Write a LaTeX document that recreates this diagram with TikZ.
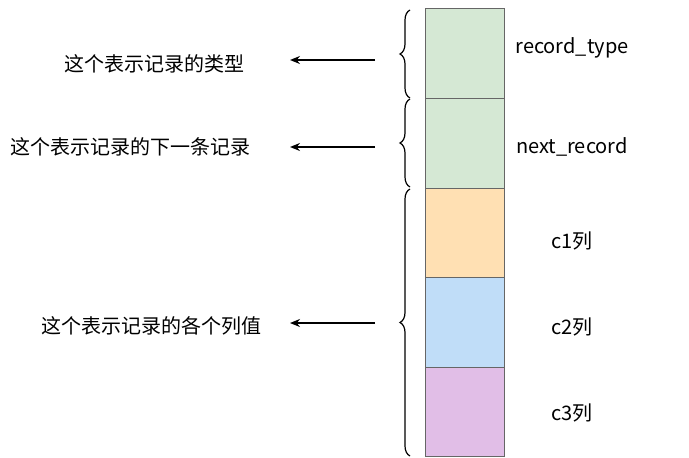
\documentclass[tikz,border=0pt]{standalone}
\usepackage{fontspec}
\setmainfont{Noto Sans CJK SC}
\usetikzlibrary{decorations.pathreplacing,arrows.meta}
\definecolor{cg}{HTML}{D5E8D4}
\definecolor{co}{HTML}{FFE0B3}
\definecolor{cb}{HTML}{C0DDF8}
\definecolor{cp}{HTML}{E1BEE7}
\begin{document}
\begin{tikzpicture}[x=1pt,y=-1pt,
  box/.style={draw=gray!80!black,line width=0.6pt},
  lab/.style={font=\fontsize{20}{24}\selectfont},
  br/.style={decorate,decoration={brace,amplitude=10pt,raise=0pt},line width=1.2pt},
  arr/.style={-{Stealth[length=10pt,width=8pt]},line width=1.5pt}]
\useasboundingbox (0,0) rectangle (689,458);
\fill[white] (0,0) rectangle (689,458);
\draw[box,fill=cg] (425,8) rectangle (504,98);
\draw[box,fill=cg] (425,98) rectangle (504,188);
\draw[box,fill=co] (425,188) rectangle (504,277);
\draw[box,fill=cb] (425,277) rectangle (504,367);
\draw[box,fill=cp] (425,367) rectangle (504,456);
\node[lab] (l1) at (572,48) {record\_type};
\node[lab] (l2) at (572,147) {next\_record};
\node[lab] (l3) at (572,241) {c1列};
\node[lab] (l4) at (572,327) {c2列};
\node[lab] (l5) at (572,413) {c3列};
\draw[br] (410,98) -- (410,10);
\draw[br] (410,187) -- (410,99);
\draw[br] (410,456) -- (410,189);
\coordinate (a1) at (375,60); \coordinate (b1) at (290,60);
\coordinate (a2) at (375,147); \coordinate (b2) at (290,147);
\coordinate (a3) at (375,323); \coordinate (b3) at (290,323);
\draw[arr] (a1) -- (b1);
\draw[arr] (a2) -- (b2);
\draw[arr] (a3) -- (b3);
\node[lab,anchor=east] (t1) at (248,64) {这个表示记录的类型};
\node[lab,anchor=east] (t2) at (254,147) {这个表示记录的下一条记录};
\node[lab,anchor=east] (t3) at (265,326) {这个表示记录的各个列值};
\end{tikzpicture}
\end{document}
